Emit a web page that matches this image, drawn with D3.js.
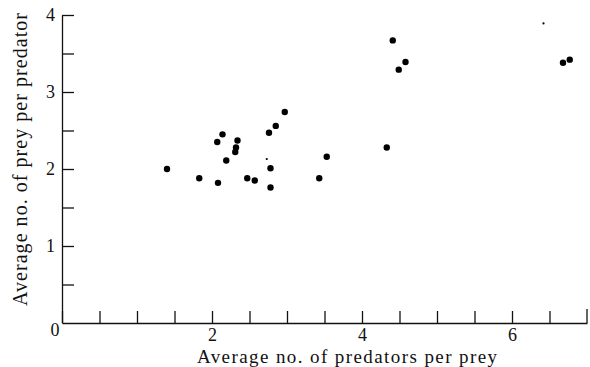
<!DOCTYPE html>
<html>
<head>
<meta charset="utf-8">
<script src="https://cdn.jsdelivr.net/npm/d3@7"></script>
<style>
  body { margin: 0; background: #fff; }
  svg { display: block; font-family: "Liberation Serif", "DejaVu Serif", serif; }
  .axis path, .axis line { stroke: #111; stroke-width: 1.3px; }
  .axis text { font-size: 18px; fill: #111; font-family: "Liberation Serif", serif; }
</style>
</head>
<body>
<div id="chart"></div>
<script>
// average no. of predators per prey (x) vs average no. of prey per predator (y)
var predatorsPerPrey = [1.40, 1.83, 2.08, 2.07, 2.14, 2.19, 2.34, 2.32, 2.31, 2.47, 2.57,
                        2.76, 2.85, 2.97, 2.78, 2.78, 3.43, 3.53, 4.33, 4.41, 4.58, 4.49,
                        6.68, 6.77];
var preyPerPredator = [2.00, 1.88, 1.82, 2.35, 2.45, 2.11, 2.37, 2.28, 2.22, 1.88, 1.85,
                       2.47, 2.56, 2.74, 2.01, 1.76, 1.88, 2.16, 2.28, 3.67, 3.39, 3.29,
                       3.38, 3.42];
// faint specks in the printed figure
var speckX = [2.73, 6.42];
var speckY = [2.13, 3.89];

var xTicks = [0, 0.5, 1, 1.5, 2, 2.5, 3, 3.5, 4, 4.5, 5, 5.5, 6, 6.5];
var yTicks = [0.5, 1, 1.5, 2, 2.5, 3, 3.5, 4];
var xLabels = [2, 4, 6];
var yLabels = [1, 2, 3, 4];

var width = 590, height = 367;
var margin = { top: 15, right: 3, bottom: 44, left: 62 };

var svg = d3.select("#chart").append("svg")
    .attr("width", width)
    .attr("height", height);

var x = d3.scaleLinear().domain([0, 7]).range([margin.left, width - margin.right]);
var y = d3.scaleLinear().domain([0, 4]).range([height - margin.bottom, margin.top]);

svg.append("g")
    .attr("class", "axis")
    .attr("transform", "translate(0," + y(0) + ")")
    .call(d3.axisBottom(x)
        .tickValues(xTicks)
        .tickSize(-12)
        .tickSizeOuter(0)
        .tickPadding(5)
        .tickFormat(function(d) { return xLabels.indexOf(d) >= 0 ? d : ""; }));

// closing tick at the right end of the x axis
svg.append("line")
    .attr("x1", x(7)).attr("x2", x(7))
    .attr("y1", y(0)).attr("y2", y(0) - 14)
    .attr("stroke", "#111").attr("stroke-width", 1.3);

svg.append("g")
    .attr("class", "axis")
    .attr("transform", "translate(" + x(0) + ",0)")
    .call(d3.axisLeft(y)
        .tickValues(yTicks)
        .tickSize(-12)
        .tickSizeOuter(0)
        .tickPadding(7)
        .tickFormat(function(d) { return yLabels.indexOf(d) >= 0 ? d : ""; }));

// shared origin label
svg.append("text")
    .attr("x", x(0) - 7)
    .attr("y", y(0) + 13)
    .attr("text-anchor", "middle")
    .style("font-size", "18px")
    .attr("fill", "#111")
    .text("0");

svg.append("g").selectAll("circle.pt")
    .data(d3.range(predatorsPerPrey.length))
    .enter().append("circle")
    .attr("class", "pt")
    .attr("cx", function(i) { return x(predatorsPerPrey[i]); })
    .attr("cy", function(i) { return y(preyPerPredator[i]); })
    .attr("r", 3.2)
    .attr("fill", "#000");

svg.append("g").selectAll("circle.speck")
    .data(d3.range(speckX.length))
    .enter().append("circle")
    .attr("class", "speck")
    .attr("cx", function(i) { return x(speckX[i]); })
    .attr("cy", function(i) { return y(speckY[i]); })
    .attr("r", 1.1)
    .attr("fill", "#000");

svg.append("text")
    .attr("x", 197)
    .attr("y", 362.5)
    .attr("textLength", 300)
    .attr("lengthAdjust", "spacing")
    .style("font-size", "19px")
    .attr("fill", "#111")
    .text("Average no. of predators per prey");

svg.append("text")
    .attr("transform", "translate(27,306) rotate(-90)")
    .attr("textLength", 293)
    .attr("lengthAdjust", "spacing")
    .style("font-size", "20px")
    .attr("fill", "#111")
    .text("Average no. of prey per predator");
</script>
</body>
</html>
